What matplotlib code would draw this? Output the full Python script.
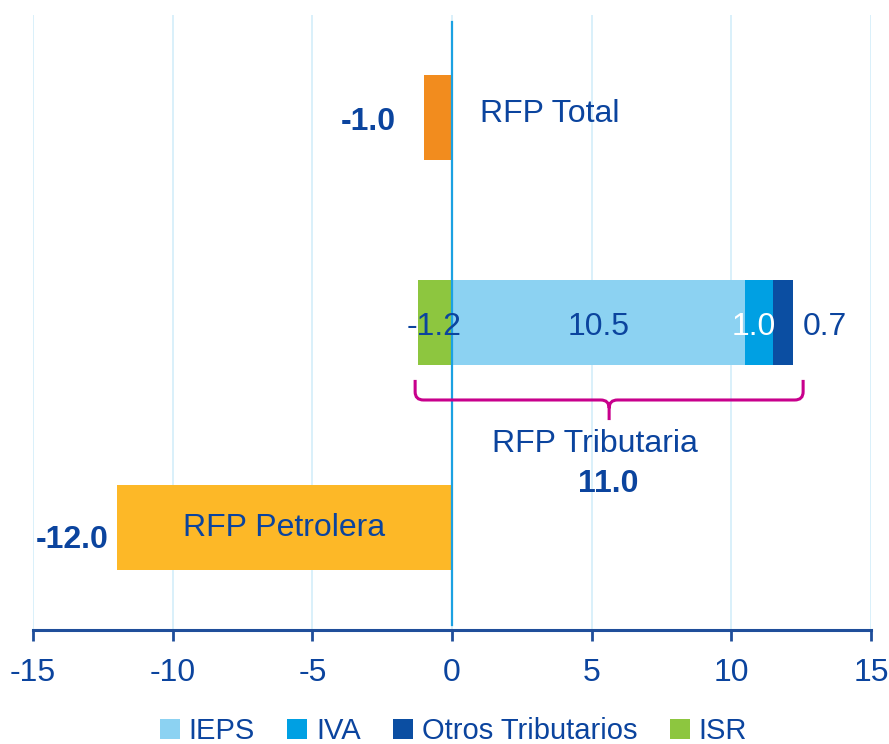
import matplotlib
matplotlib.use('Agg')
import matplotlib.pyplot as plt
from matplotlib.path import Path
import matplotlib.patches as patches

plt.rcParams['font.family'] = ['Liberation Sans', 'DejaVu Sans']

# data
rows = ['RFP Petrolera', 'RFP Tributaria', 'RFP Total']
total_val = -1.0
petrolera_val = -12.0
tributaria_total = 11.0
trib_names = ['IEPS', 'IVA', 'Otros Tributarios', 'ISR']
trib_vals = [10.5, 1.0, 0.7, -1.2]
xticks = [-15, -10, -5, 0, 5, 10, 15]

dark = '#0B449E'
trib_colors = ['#8CD2F2', '#00A0E3', '#0B4EA2', '#8DC63F']
c_total = '#F28C1E'
c_petro = '#FDB827'

fig = plt.figure(figsize=(8.89, 7.44), dpi=100)
ax = fig.add_axes([33/889, 1-630/744, 838/889, 615/744])

ypos = {r: i for i, r in enumerate(rows)}
h = 0.41

# RFP Total / Petrolera
ax.barh(ypos['RFP Total'], total_val, height=h, color=c_total, zorder=3)
ax.barh(ypos['RFP Petrolera'], petrolera_val, height=h, color=c_petro, zorder=3)

# Tributaria stacked pieces
y = ypos['RFP Tributaria']
pos_left = 0.0
handles = []
for name, v, c in zip(trib_names, trib_vals, trib_colors):
    if v >= 0:
        b = ax.barh(y, v, left=pos_left, height=h, color=c, zorder=3, label=name)
        pos_left += v
    else:
        b = ax.barh(y, v, left=0, height=h, color=c, zorder=3, label=name)
    handles.append(b)

ax.set_xlim(-15, 15)
ax.set_ylim(-0.5, 2.5)
ax.set_xticks(xticks)
ax.set_xticklabels([str(t) for t in xticks])
ax.set_yticks([])
for s in ['top', 'right', 'left']:
    ax.spines[s].set_visible(False)
ax.spines['bottom'].set_color('#1F4E9A')
ax.spines['bottom'].set_linewidth(2.2)
ax.tick_params(axis='x', direction='out', length=8, width=2, color='#1F4E9A',
               labelsize=23, labelcolor=dark, pad=12)
ax.grid(axis='x', color='#D3EEF9', linewidth=1.2, zorder=0)
ax.set_axisbelow(True)

# zero line
ax.axvline(0, ymin=5/615, ymax=608/615, color='#1BA1E2', linewidth=1.6, zorder=5)

fs = 23
dy = -0.012  # small downward nudge for centred text
# labels
ax.text(-3.0, 1.988 + dy, f'{total_val:.1f}', ha='center', va='center', fontsize=fs,
        fontweight='bold', color=dark, zorder=6)
ax.text(1.0, 2.027 + dy, rows[2], ha='left', va='center', fontsize=fs, color=dark, zorder=6)

ty = 0.988 + dy
ax.text(-0.65, ty, f'{trib_vals[3]:.1f}', ha='center', va='center', fontsize=fs,
        color=dark, zorder=6)
ax.text(trib_vals[0] / 2, ty, f'{trib_vals[0]:.1f}', ha='center', va='center',
        fontsize=fs, color=dark, zorder=6)
ax.text(trib_vals[0] + trib_vals[1] / 2 - 0.2, ty, f'{trib_vals[1]:.1f}', ha='center',
        va='center', fontsize=fs, color='white', zorder=6)
ax.text(12.55, ty, f'{trib_vals[2]:.1f}', ha='left', va='center', fontsize=fs,
        color=dark, zorder=6)

ax.text(5.1, 0.417 + dy, rows[1], ha='center', va='center', fontsize=fs, color=dark, zorder=6)
ax.text(5.6, 0.222 + dy, f'{tributaria_total:.1f}', ha='center', va='center', fontsize=fs,
        fontweight='bold', color=dark, zorder=6)

ax.text(-6.0, 0.012 + dy, rows[0], ha='center', va='center', fontsize=fs, color=dark, zorder=6)
ax.text(-13.6, -0.051 + dy, f'{petrolera_val:.1f}', ha='center', va='center', fontsize=fs,
        fontweight='bold', color=dark, zorder=6)

# brace under tributaria
x0, x1 = -1.32, 12.57
xc = (x0 + x1) / 2
yt, ym, yb = 0.72, 0.622, 0.524
rx, ry = 0.3, 0.04
verts = [(x0, yt), (x0, ym + ry), (x0, ym), (x0 + rx, ym), (xc - rx, ym), (xc, ym), (xc, ym - ry),
         (xc, yb),
         (x1, yt), (x1, ym + ry), (x1, ym), (x1 - rx, ym), (xc + rx, ym), (xc, ym), (xc, ym - ry)]
codes = [Path.MOVETO, Path.LINETO, Path.CURVE3, Path.CURVE3, Path.LINETO, Path.CURVE3, Path.CURVE3,
         Path.LINETO,
         Path.MOVETO, Path.LINETO, Path.CURVE3, Path.CURVE3, Path.LINETO, Path.CURVE3, Path.CURVE3]
brace = patches.PathPatch(Path(verts, codes), facecolor='none', edgecolor='#C8008C',
                          linewidth=2.2, zorder=6)
ax.add_patch(brace)

leg = fig.legend(handles=handles, labels=trib_names, loc='center', bbox_to_anchor=(0.51, 1 - 731/744),
                 ncol=4, frameon=False, fontsize=21, handlelength=0.7, handleheight=0.7,
                 handletextpad=0.3, columnspacing=1.1, borderaxespad=0, borderpad=0.1)
for t in leg.get_texts():
    t.set_color(dark)

fig.savefig('out.png', dpi=100)
